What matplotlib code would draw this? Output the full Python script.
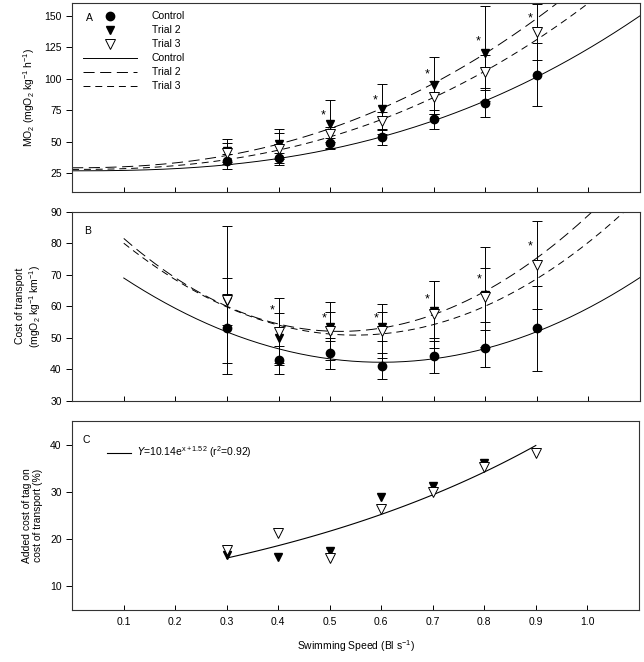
import numpy as np
import matplotlib.pyplot as plt
from matplotlib.lines import Line2D

plt.rcParams['font.family'] = ['Liberation Sans', 'DejaVu Sans']
plt.rcParams['font.size'] = 7.5
plt.rcParams['mathtext.default'] = 'regular'
plt.rcParams['lines.scale_dashes'] = False

speed = [0.3, 0.4, 0.5, 0.6, 0.7, 0.8, 0.9]
nan = np.nan

# Panel A: MO2
mo2_control = [34.5, 37, 49, 53.8, 67.6, 81, 103]
mo2_trial2 = [42.7, 48, 63.6, 75.8, 94.6, 120, nan]
mo2_trial3 = [40.6, 44, 55.7, 66.5, 85, 105, 137]
mo2_control_sd = [6, 4, 4, 6.5, 7.5, 11.5, 25]
mo2_trial2_sd = [9, 12, 19.4, 19.6, 22.7, 37.5, nan]
mo2_trial3_sd = [8.5, 12.5, 6, 7, 13, 14, 22]
# fitted curves y = y0 + k * x^n
mo2_fit_control = (26.8, 97, 2.5)
mo2_fit_trial2 = (29.2, 150.6, 2.27)
mo2_fit_trial3 = (27.9, 132, 2.35)
mo2_star_x = [0.5, 0.6, 0.7, 0.8, 0.9]
mo2_star_y = [71, 83, 103.6, 129.8, 147.8]

# Panel B: cost of transport
cot_control = [53, 42.9, 45, 41, 44.3, 46.6, 53]
cot_trial2 = [61.5, 49.8, 53.5, 53.5, 58.5, 63.5, nan]
cot_trial3 = [62, 51.9, 52, 52, 57.4, 62.8, 73]
cot_control_sd = [11, 4.5, 5, 4.2, 5.5, 6, 13.5]
cot_trial2_sd = [7.5, 7.9, 4.7, 4.7, 9.5, 8.5, nan]
cot_trial3_sd = [23.5, 10.6, 9.2, 8.6, 10.6, 15.9, 14]
# fitted curves
cot_fit_x = [0.1, 0.3, 0.5, 0.7, 0.9, 1.0]
cot_fit_control = [68.9, 51.9, 43.3, 43.2, 51.9, 59.5]
cot_fit_trial2 = [81.6, 59.8, 51.8, 58.3, 74.1, 89.5]
cot_fit_trial3 = [80.0, 59.8, 50.9, 54.6, 68.3, 80.5]
cot_star_x = [0.4, 0.5, 0.6, 0.7, 0.8, 0.9]
cot_star_y = [58.8, 56, 56, 62.2, 68.5, 78.9]

# Panel C: added cost of tag
added_trial2 = [16.7, 16.3, 17.4, 28.9, 31.2, 36.2, nan]
added_trial3 = [17.7, 21.2, 16, 26.3, 29.9, 35.2, 38.3]
added_fit = (10.14, 1.52)

long_dash = (0, (8, 4))
short_dash = (0, (5, 3.5))

fig = plt.figure(figsize=(6.44, 6.62), dpi=100)
ax_a = fig.add_axes([0.112, 0.710, 0.882, 0.2855])
ax_b = fig.add_axes([0.112, 0.3947, 0.882, 0.2855])
ax_c = fig.add_axes([0.112, 0.0785, 0.880, 0.2855])

err_kw = dict(ecolor='black', elinewidth=0.7, capsize=3.5, capthick=0.7, linestyle='none')
mk_control = dict(marker='o', markersize=6, color='black', mfc='black', mec='black')
mk_trial2 = dict(marker='v', markersize=6, color='black', mfc='black', mec='black')
mk_trial3 = dict(marker='v', markersize=6.5, color='black', mfc='white', mec='black', mew=0.7)


def draw_points(ax, y1, e1, y2, e2, y3, e3):
    ax.errorbar(speed, y1, yerr=e1, **mk_control, **err_kw, zorder=3)
    ax.errorbar(speed, y2, yerr=e2, **mk_trial2, **err_kw, zorder=4)
    ax.errorbar(speed, y3, yerr=e3, **mk_trial3, **err_kw, zorder=5)


# ---- A ----
xa = np.linspace(0, 1.1, 200)
for (y0, k, n), ls in zip([mo2_fit_control, mo2_fit_trial2, mo2_fit_trial3], ['-', long_dash, short_dash]):
    ax_a.plot(xa, y0 + k * xa ** n, color='black', lw=0.7, linestyle=ls, zorder=2)
draw_points(ax_a, mo2_control, mo2_control_sd, mo2_trial2, mo2_trial2_sd, mo2_trial3, mo2_trial3_sd)
for x, y in zip(mo2_star_x, mo2_star_y):
    ax_a.text(x - 0.013, y, '*', ha='center', va='center', fontsize=9)
ax_a.set_ylim(10, 160)
ax_a.set_yticks([25, 50, 75, 100, 125, 150])
ax_a.set_ylabel('MO$_2$ (mgO$_2$ kg$^{-1}$ h$^{-1}$)', labelpad=5)
ax_a.text(0.025, 0.905, 'A', transform=ax_a.transAxes)

handles = [Line2D([], [], linestyle='none', **mk_control),
           Line2D([], [], linestyle='none', **mk_trial2),
           Line2D([], [], linestyle='none', **mk_trial3),
           Line2D([], [], color='black', lw=0.7, linestyle='-'),
           Line2D([], [], color='black', lw=0.7, linestyle=long_dash),
           Line2D([], [], color='black', lw=0.7, linestyle=short_dash)]
labels = ['Control', 'Trial 2', 'Trial 3', 'Control', 'Trial 2', 'Trial 3']
ax_a.legend(handles, labels, loc='upper left', bbox_to_anchor=(0.019, 0.955), frameon=False,
            borderpad=0, borderaxespad=0, handlelength=5.2, handletextpad=1.4, labelspacing=0.38,
            fontsize=7.5)

# ---- B ----
xb = np.linspace(0.1, 1.1, 200)
for pts, ls in zip([cot_fit_control, cot_fit_trial2, cot_fit_trial3], ['-', long_dash, short_dash]):
    coef = np.polyfit(cot_fit_x, pts, 3 if pts is not cot_fit_control else 2)
    ax_b.plot(xb, np.polyval(coef, xb), color='black', lw=0.7, linestyle=ls, zorder=2)
draw_points(ax_b, cot_control, cot_control_sd, cot_trial2, cot_trial2_sd, cot_trial3, cot_trial3_sd)
for x, y in zip(cot_star_x, cot_star_y):
    ax_b.text(x - 0.012, y, '*', ha='center', va='center', fontsize=9)
ax_b.set_ylim(30, 90)
ax_b.set_yticks(range(30, 91, 10))
ax_b.set_ylabel('Cost of transport\n(mgO$_2$ kg$^{-1}$ km$^{-1}$)', labelpad=5)
ax_b.text(0.022, 0.88, 'B', transform=ax_b.transAxes)

# ---- C ----
xc = np.linspace(0.3, 0.9, 100)
a, b = added_fit
line_c, = ax_c.plot(xc, a * np.exp(b * xc), color='black', lw=0.8, zorder=2)
ax_c.plot(speed, added_trial2, linestyle='none', **mk_trial2, zorder=4)
ax_c.plot(speed, added_trial3, linestyle='none', **mk_trial3, zorder=5)
ax_c.set_ylim(5, 45)
ax_c.set_yticks([10, 20, 30, 40])
ax_c.set_ylabel('Added cost of tag on\ncost of transport (%)', labelpad=5)
ax_c.text(0.018, 0.885, 'C', transform=ax_c.transAxes)
ax_c.legend([line_c], ['$\\mathit{Y}$=10.14e$^{x+1.52}$ (r$^2$=0.92)'], loc='upper left',
            bbox_to_anchor=(0.062, 0.875), frameon=False, borderpad=0, borderaxespad=0,
            handlelength=2.3, handletextpad=0.6, fontsize=7.5)

for ax in (ax_a, ax_b, ax_c):
    ax.set_xlim(0, 1.1)
    ax.set_xticks([0.1, 0.2, 0.3, 0.4, 0.5, 0.6, 0.7, 0.8, 0.9, 1.0])
    ax.tick_params(axis='x', direction='in', length=3.5, width=0.7, top=False)
    ax.tick_params(axis='y', direction='out', length=4, width=0.7, right=False)
    for s in ax.spines.values():
        s.set_linewidth(0.8)
        s.set_color('#333333')
ax_a.tick_params(axis='x', labelbottom=False)
ax_b.tick_params(axis='x', labelbottom=False)
ax_c.set_xticklabels(['0.1', '0.2', '0.3', '0.4', '0.5', '0.6', '0.7', '0.8', '0.9', '1.0'])
ax_c.tick_params(axis='x', pad=5)
ax_c.set_xlabel('Swimming Speed (Bl s$^{-1}$)', labelpad=8)

fig.savefig('out.png', dpi=100)
